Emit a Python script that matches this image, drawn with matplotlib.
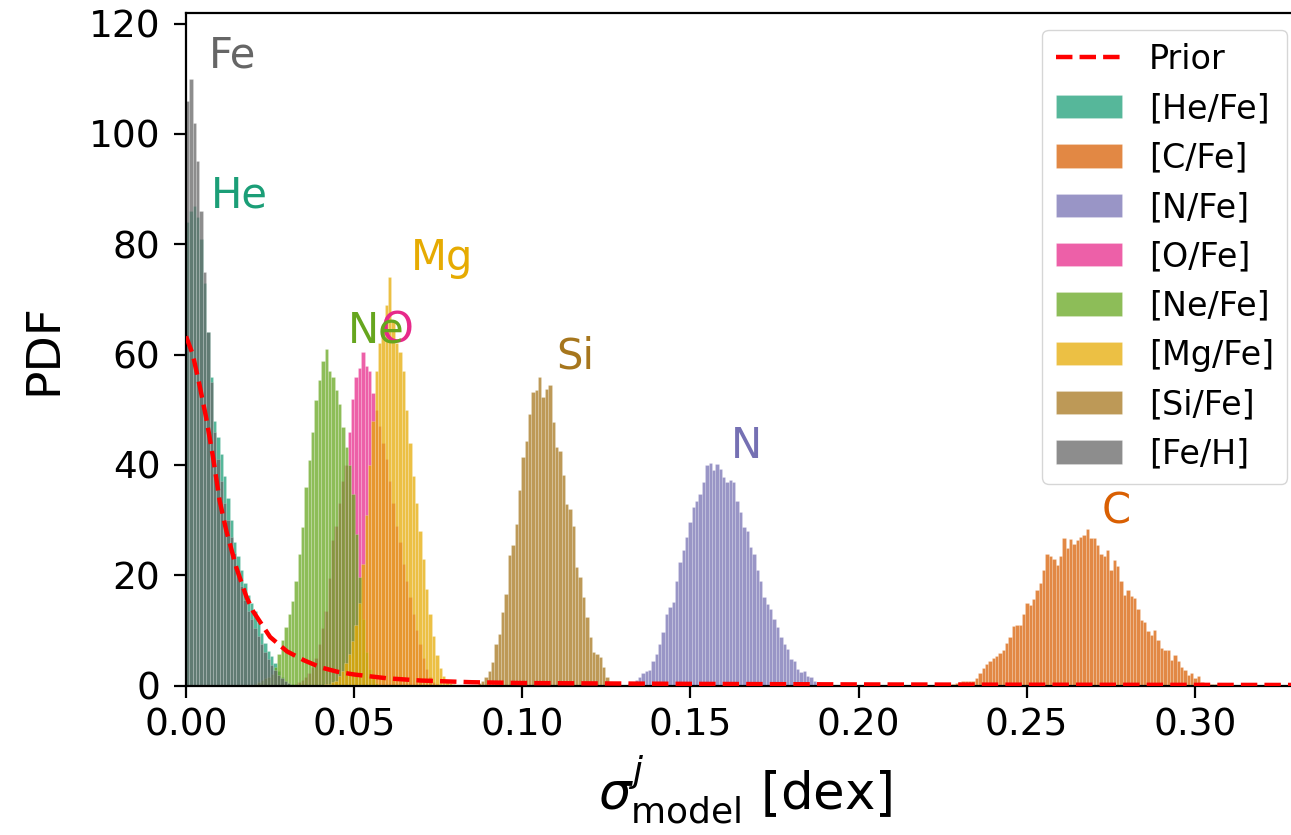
import numpy as np
import matplotlib
matplotlib.use("Agg")
import matplotlib.pyplot as plt
from matplotlib.colors import to_rgba
from matplotlib.ticker import FormatStrFormatter

# ---------------- data ----------------
bin_width = 0.001

he_lo = 0.0
he_pdf = [84, 86, 87, 85, 81, 73, 64, 56, 48, 45, 42, 38, 34, 30, 26, 23.5, 21, 18.5,
          16.5, 15, 13.5, 11.5, 9.5, 7.8, 6.2, 5.3, 4.0, 2.6, 1.6, 0.9, 0.5, 0.3]

c_lo = 0.2266
c_pdf = [0.1, 0.2, 0.4, 0.7, 0.8, 0.85, 0.9, 0.9, 1.3, 2.3, 3.1, 3.9, 4.5, 5.0, 5.4, 5.9,
         6.5, 7.8, 8.8, 10.8, 11.0, 11.0, 13.0, 15.0, 14.6, 15.6, 17.3, 18.5, 21.0, 23.8,
         23.4, 23.0, 21.9, 23.5, 26.7, 25.0, 26.5, 25.7, 26.3, 27.0, 27.3, 28.3, 26.8, 26.7,
         25.5, 23.8, 23.4, 24.6, 21.0, 22.7, 21.6, 18.9, 16.5, 17.4, 16.2, 15.9, 13.8, 11.9,
         11.6, 9.8, 9.2, 10.1, 8.3, 6.8, 6.5, 6.5, 4.7, 5.6, 4.4, 3.3, 2.8, 1.9, 2.2, 1.3,
         1.8, 0.7, 0.3, 0.3, 0.3, 0.2, 0.1, 0.1, 0.3, 0.2]

n_lo = 0.1314
n_pdf = [0.4, 0.6, 1.0, 1.6, 2.2, 2.6, 2.8, 4.5, 5.7, 7.6, 9.7, 13.0, 14.2, 15.1, 19.0,
         22.4, 24.5, 26.9, 29.6, 32.3, 33.5, 34.8, 36.9, 39.9, 40.3, 39.0, 40.2, 39.3, 37.8,
         36.9, 37.2, 36.9, 33.5, 31.4, 28.7, 28.1, 25.1, 23.9, 20.9, 19.0, 16.0, 14.8, 13.9,
         12.1, 10.6, 8.8, 7.6, 6.6, 4.8, 4.5, 3.0, 2.4, 2.6, 1.8, 1.5, 0.9, 0.7, 0.5, 0.3]

o_lo = 0.0321
o_pdf = [0.3, 0.6, 1.0, 1.5, 2.3, 3.3, 5.0, 7.6, 10.5, 13.6, 19.5, 26.3, 29, 33, 37, 40,
         46, 52, 56, 57.5, 60.5, 58, 57, 53, 50, 47, 44, 41, 37, 33, 29, 26, 22, 19, 16,
         13, 10, 7.5, 5, 3, 1.5, 0.6, 0.2]

ne_lo = 0.0202
ne_pdf = [0.3, 0.6, 1.0, 1.3, 1.6, 2.1, 3.3, 5.7, 8.2, 10.6, 13.0, 15.4, 19.0, 23.9, 28.7,
          36.0, 40.8, 46.0, 51.7, 55.3, 58.9, 61.0, 57.1, 55.9, 53.5, 51.1, 46.8, 43.2,
          40.0, 34.8, 27.5, 19.6, 12.0, 6.0, 3.0, 1.5, 0.5]

mg_lo = 0.0411
mg_pdf = [0.2, 0.3, 0.6, 0.9, 1.8, 2.7, 4.0, 5.7, 8.0, 11, 15, 22, 31, 40, 48, 57, 62, 65,
          69, 74, 66, 62, 60.5, 57, 50, 44, 38, 33, 28, 23, 17.5, 13, 9, 5.5, 3.2, 1.8, 0.9,
          0.4, 0.2]

si_lo = 0.0867
si_pdf = [0.4, 0.9, 1.5, 2.7, 4.2, 7.6, 9.4, 13.3, 16.6, 23.6, 25.4, 29.3, 35.4, 41.4, 44.4,
          49.3, 53.2, 53.5, 56.0, 52.3, 53.8, 54.4, 47.7, 43.2, 42.6, 38.1, 32.9, 32.0, 29.0,
          21.5, 19.6, 16.0, 12.4, 8.8, 6.0, 5.7, 5.1, 3.3, 1.5, 0.6, 0.4]

fe_lo = 0.0
fe_pdf = [106, 110, 102, 95, 86, 75, 64, 55, 46, 41, 37, 33, 30, 27, 24, 21, 18, 15.5,
          13.5, 12, 10.5, 9, 7.5, 6, 4.8, 3.8, 2.8, 2.0, 1.3, 0.8, 0.4]

prior_x = [0, 0.002, 0.004, 0.006, 0.008, 0.010, 0.012, 0.015, 0.018, 0.020, 0.025, 0.030,
           0.035, 0.040, 0.045, 0.050, 0.060, 0.070, 0.085, 0.10, 0.15, 0.20, 0.25, 0.30, 0.335]
prior_y = [63.3, 60, 54.5, 48.5, 41.5, 33.5, 28, 21.3, 16, 13.4, 8.8, 6.2, 4.6, 3.3, 2.5,
           2.0, 1.3, 0.9, 0.6, 0.45, 0.3, 0.2, 0.15, 0.12, 0.1]

series_names = ["[He/Fe]", "[C/Fe]", "[N/Fe]", "[O/Fe]", "[Ne/Fe]", "[Mg/Fe]", "[Si/Fe]", "[Fe/H]"]
series_lo = [he_lo, c_lo, n_lo, o_lo, ne_lo, mg_lo, si_lo, fe_lo]
series_pdf = [he_pdf, c_pdf, n_pdf, o_pdf, ne_pdf, mg_pdf, si_pdf, fe_pdf]
series_colors = ["#1b9e77", "#d95f02", "#7570b3", "#e7298a", "#66a61e", "#e6ab02", "#a6761d", "#666666"]

label_text = ["He", "C", "N", "O", "Ne", "Mg", "Si", "Fe"]
label_x = [0.0074, 0.2723, 0.162, 0.058, 0.048, 0.0669, 0.110, 0.0068]
label_y = [86.6, 29.4, 41.3, 62.2, 62.2, 75.3, 57.5, 112]

x_ticks = [0.00, 0.05, 0.10, 0.15, 0.20, 0.25, 0.30]
y_ticks = [0, 20, 40, 60, 80, 100, 120]

# ---------------- figure ----------------
fig = plt.figure(figsize=(12.91, 8.35), dpi=100)
ax = fig.add_axes([0.1441, 0.179, 0.866, 0.8054])

ax.plot(prior_x, prior_y, color="red", linestyle="--", linewidth=3.2, label="Prior", zorder=5)

for name, lo, pdf, col in zip(series_names, series_lo, series_pdf, series_colors):
    edges = lo + bin_width * np.arange(len(pdf) + 1)
    ax.hist(edges[:-1] + bin_width / 2, bins=edges, weights=pdf,
            facecolor=to_rgba(col, 0.74), edgecolor=(1, 1, 1, 0.25), linewidth=0.5,
            label=name)

for t, x, y, col in zip(label_text, label_x, label_y, series_colors):
    ax.text(x, y, t, color=col, fontsize=30, ha="left", va="baseline", zorder=6)

ax.set_xlim(0, 0.3325)
ax.set_ylim(0, 121.9)
ax.set_xticks(x_ticks)
ax.set_yticks(y_ticks)
ax.xaxis.set_major_formatter(FormatStrFormatter("%.2f"))
ax.tick_params(labelsize=27, length=8.5, width=1.6, pad=7)
ax.tick_params(axis="y", pad=10)
for s in ax.spines.values():
    s.set_linewidth(1.6)

ax.set_ylabel("PDF", fontsize=34, labelpad=16)
ax.set_xlabel(r"$\sigma^j_{\rm model}$ [dex]", fontsize=37, labelpad=8)

ax.legend(loc="upper right", fontsize=24, labelspacing=0.49, handlelength=2.0,
          borderaxespad=0.5)

fig.savefig("out.png", dpi=100)
